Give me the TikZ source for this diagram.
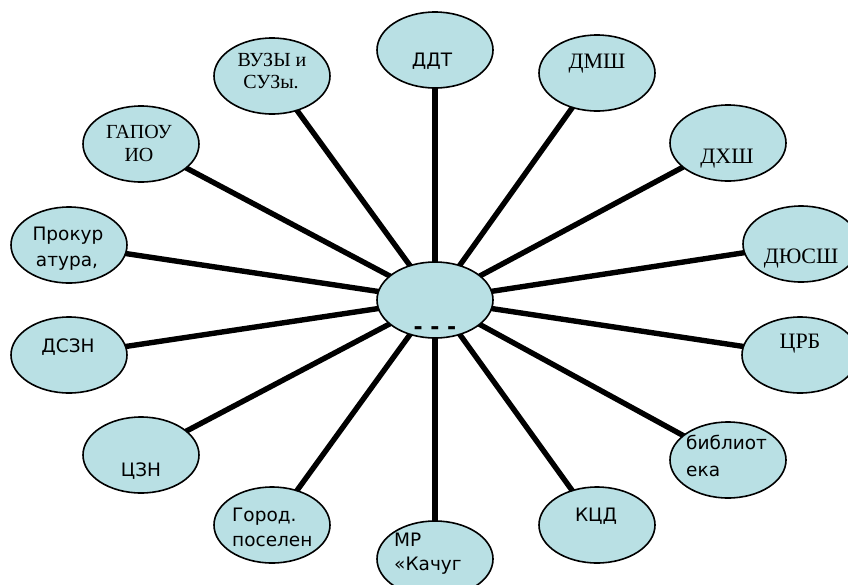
\documentclass[tikz,border=0pt]{standalone}
\usepackage{fontspec}
\setmainfont{Liberation Serif}
\newfontfamily\sansf{DejaVu Sans}
\usetikzlibrary{shapes.geometric,backgrounds}
\definecolor{bub}{RGB}{185,224,228}
\tikzset{
  bubble/.style={ellipse, draw=black, line width=1.6pt, fill=bub, minimum width=116pt, minimum height=76pt, inner sep=0pt},
  spoke/.style={line width=5.4pt, black},
  sanst/.style={font=\sansf\fontsize{18.5}{20}\selectfont, inner sep=0pt, anchor=base},
  sanstl/.style={font=\sansf\fontsize{18.5}{20}\selectfont, inner sep=0pt, anchor=base west},
  serift/.style={font=\fontsize{20}{22}\selectfont, inner sep=0pt, anchor=base},
  seriftb/.style={font=\fontsize{22}{24}\selectfont, inner sep=0pt, anchor=base},
}
\begin{document}
\begin{tikzpicture}[x=1pt,y=-1pt]
\useasboundingbox (0,0) rectangle (848,584);
% bubbles
\node[bubble] (c) at (435,300) {};
\node[bubble] (ddt) at (435,50) {};
\node[bubble] (vuz) at (272,76) {};
\node[bubble] (dmsh) at (597,73) {};
\node[bubble] (dhsh) at (728,143) {};
\node[bubble] (dyussh) at (801,244) {};
\node[bubble] (crb) at (800,355) {};
\node[bubble] (bib) at (728,460) {};
\node[bubble] (kcd) at (597,525) {};
\node[bubble] (mr) at (435,559) {};
\node[bubble] (gor) at (272,525) {};
\node[bubble] (czn) at (141,455) {};
\node[bubble] (dszn) at (69,355) {};
\node[bubble] (prok) at (69,245) {};
\node[bubble] (gapou) at (141,144) {};
% spokes
\begin{scope}[on background layer]
\foreach \n in {ddt,vuz,dmsh,dhsh,dyussh,crb,bib,kcd,mr,gor,czn,dszn,prok,gapou}
  \draw[spoke] (c.center) -- (\n.center);
\end{scope}
% texts
\node[sanst] (tddt) at (432,66) {ДДТ};
\node[serift] (tvuz1) at (272,66) {ВУЗЫ и};
\node[serift] (tvuz2) at (271,88) {СУЗы.};
\node[seriftb] (tdmsh) at (597,68) {ДМШ};
\node[seriftb] (tdhsh) at (727,163) {ДХШ};
\node[seriftb] (tdyussh) at (801,263) {ДЮСШ};
\node[seriftb] (tcrb) at (800,348) {ЦРБ};
\node[sanstl] (tbib1) at (686,449) {библиот};
\node[sanstl] (tbib2) at (686,476) {ека};
\node[sanst] (tkcd) at (596,521) {КЦД};
\node[sanstl] (tmr1) at (394,546) {МР};
\node[sanstl] (tmr2) at (394,570) {«Качуг};
\node[sanstl] (tgor1) at (232,521) {Город.};
\node[sanstl] (tgor2) at (232,546) {поселен};
\node[sanst] (tczn) at (141,476) {ЦЗН};
\node[sanst] (tdszn) at (68,352) {ДСЗН};
\node[sanst] (tprok1) at (68,240) {Прокур};
\node[sanst] (tprok2) at (67,266) {атура,};
\node[serift] (tgap1) at (139,138) {ГАПОУ};
\node[serift] (tgap2) at (139,161) {ИО};
\node[font=\sansf\bfseries\fontsize{22}{24}\selectfont, inner sep=0pt, anchor=base] (tc) at (435,334) {- - -};
\end{tikzpicture}
\end{document}
